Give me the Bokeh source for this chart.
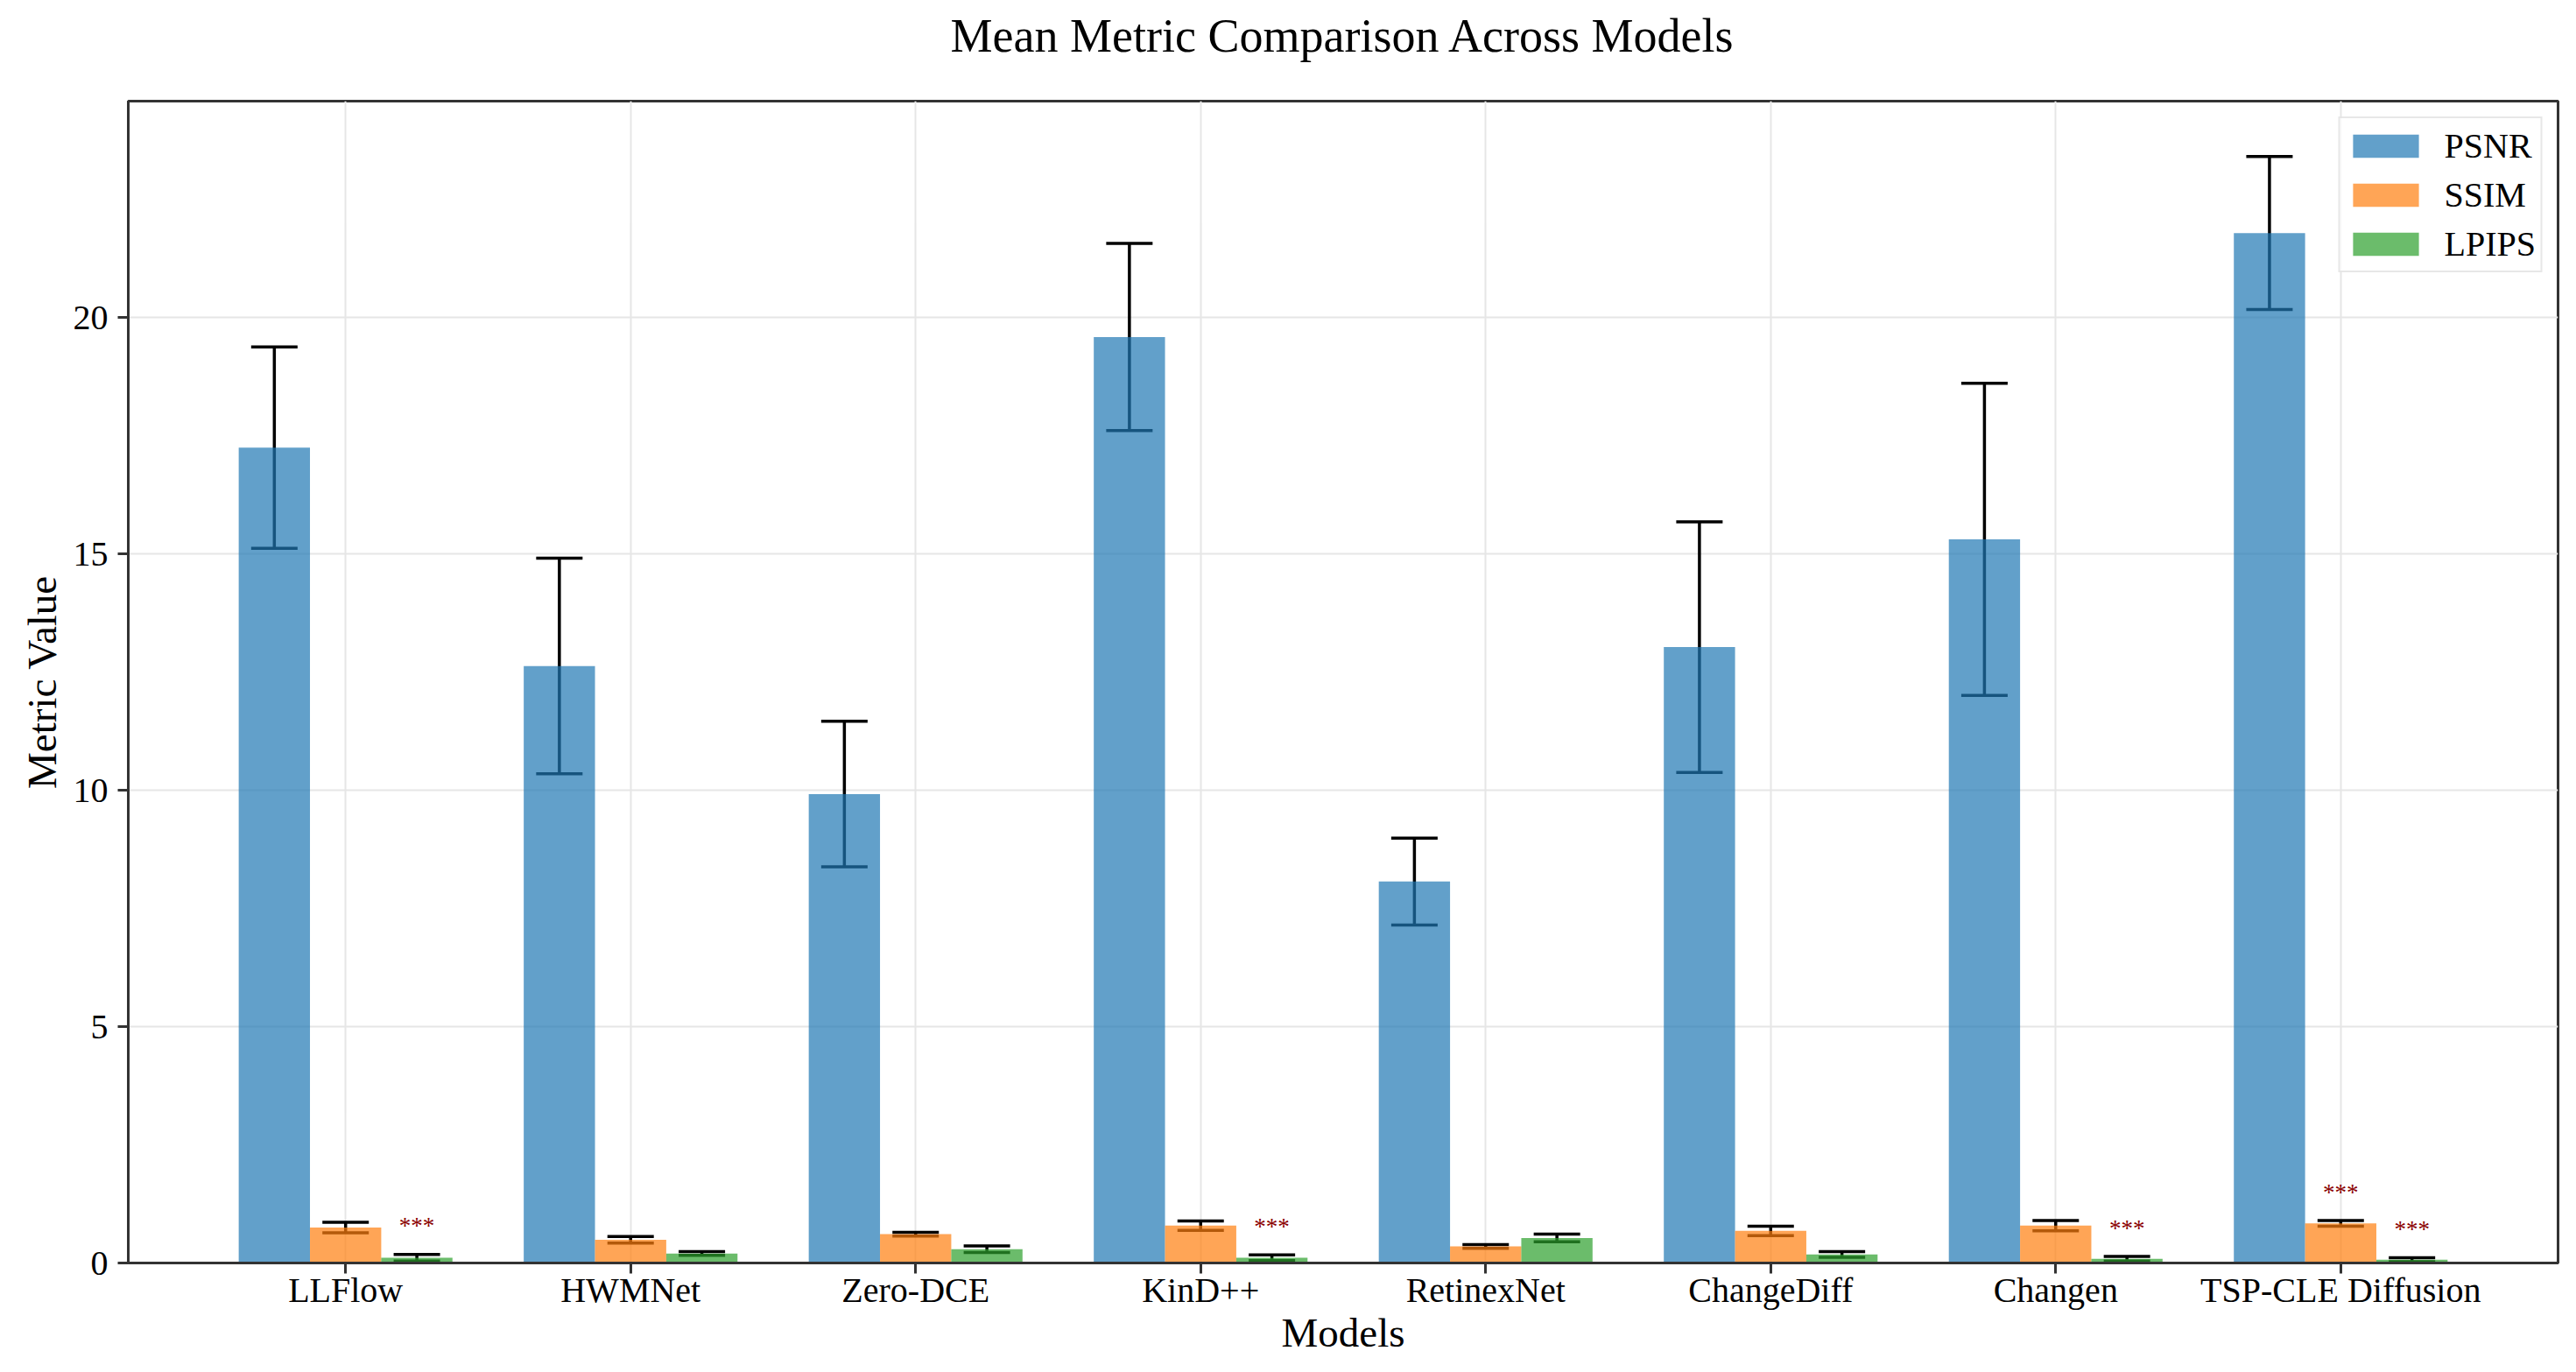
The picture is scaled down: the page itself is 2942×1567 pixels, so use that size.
from bokeh.plotting import figure
from bokeh.models import ColumnDataSource, Whisker, TeeHead, Range1d, FixedTicker, Title
from bokeh.core.properties import value
from bokeh.embed import file_html
from bokeh.resources import INLINE

# ---------------- data ----------------
models = ["LLFlow", "HWMNet", "Zero-DCE", "KinD++", "RetinexNet",
          "ChangeDiff", "Changen", "TSP-CLE Diffusion"]
psnr_mean = [17.25, 12.63, 9.92, 19.59, 8.07, 13.03, 15.31, 21.79]
psnr_std = [2.13, 2.28, 1.54, 1.98, 0.92, 2.65, 3.30, 1.62]
ssim_mean = [0.75, 0.49, 0.61, 0.79, 0.35, 0.68, 0.79, 0.84]
ssim_std = [0.11, 0.07, 0.04, 0.10, 0.04, 0.10, 0.11, 0.06]
lpips_mean = [0.11, 0.20, 0.29, 0.11, 0.53, 0.18, 0.09, 0.07]
lpips_std = [0.07, 0.04, 0.07, 0.06, 0.08, 0.06, 0.05, 0.04]
ssim_sig = ["", "", "", "", "", "", "", "***"]
lpips_sig = ["***", "", "", "***", "", "", "***", "***"]
y_ticks = [0, 5, 10, 15, 20]
title_text = "Mean Metric Comparison Across Models"

FONT = "Liberation Serif"
W, H = 2926, 1551
bar_w = 0.25

n = len(models)
idx = list(range(n))
top = max(m + s for m, s in zip(psnr_mean, psnr_std)) * 1.05

p = figure(width=W, height=H, output_backend="svg", toolbar_location=None,
           x_range=Range1d(-0.7625, n - 1 + 0.7625), y_range=Range1d(0, top))
p.min_border_left = 146
p.min_border_right = 5
p.min_border_top = 115
p.min_border_bottom = 109

# spacer between frame and title, then the title itself
p.add_layout(Title(text=" ", text_font_size="1px", standoff=42), "above")
p.add_layout(Title(text=title_text, text_font=FONT, text_font_size="54px",
                   text_font_style="normal", text_color="black",
                   align="center", standoff=0), "above")

series = [
    ("PSNR", psnr_mean, psnr_std, "#1f77b4", -bar_w, None),
    ("SSIM", ssim_mean, ssim_std, "#ff7f0e", 0.0, ssim_sig),
    ("LPIPS", lpips_mean, lpips_std, "#2ca02c", bar_w, lpips_sig),
]

for name, means, stds, color, off, sig in series:
    xs = [i + off for i in idx]
    src = ColumnDataSource(dict(
        x=xs, top=means,
        upper=[m + s for m, s in zip(means, stds)],
        lower=[m - s for m, s in zip(means, stds)],
    ))
    p.vbar(x="x", top="top", width=bar_w, source=src, fill_color=color,
           fill_alpha=0.7, line_color=None, legend_label=name)
    w = Whisker(base="x", upper="upper", lower="lower", source=src,
                line_color="black", line_width=3.5,
                upper_head=TeeHead(size=53, line_color="black", line_width=3.5),
                lower_head=TeeHead(size=53, line_color="black", line_width=3.5))
    p.add_layout(w)
    if sig is not None:
        sx, sy, st = [], [], []
        for i in idx:
            if sig[i]:
                sx.append(xs[i])
                sy.append(means[i] + stds[i] + 0.60)
                st.append(sig[i])
        ssrc = ColumnDataSource(dict(x=sx, y=sy, t=st))
        p.text(x="x", y="y", text="t", source=ssrc, text_align="center",
               text_baseline="middle", text_color="darkred",
               text_font=value(FONT), text_font_size="27px")

# axes
for ax in (p.xaxis[0], p.yaxis[0]):
    ax.major_label_text_font = FONT
    ax.major_label_text_font_size = "40px"
    ax.major_label_text_color = "black"
    ax.axis_label_text_font = FONT
    ax.axis_label_text_font_size = "47px"
    ax.axis_label_text_font_style = "normal"
    ax.axis_label_text_color = "black"
    ax.axis_line_color = "#333333"
    ax.axis_line_width = 3
    ax.major_tick_line_color = "#333333"
    ax.major_tick_line_width = 3
    ax.major_tick_out = 12
    ax.major_tick_in = 0
    ax.minor_tick_out = 0
    ax.minor_tick_in = 0

p.xaxis.ticker = FixedTicker(ticks=idx)
p.xaxis.major_label_overrides = {i: m for i, m in zip(idx, models)}
p.xaxis.axis_label = "Models"
p.xaxis.major_label_standoff = -4
p.xaxis.axis_label_standoff = -3

p.yaxis.ticker = FixedTicker(ticks=y_ticks)
p.yaxis.axis_label = "Metric Value"
p.yaxis.major_label_standoff = 11
p.yaxis.axis_label_standoff = 7

p.outline_line_color = "#333333"
p.outline_line_width = 3
p.outline_line_alpha = 1.0

for g in (p.xgrid[0], p.ygrid[0]):
    g.grid_line_color = "#e6e6e6"
    g.grid_line_width = 2

p.legend.location = "top_right"
p.legend.margin = 18
p.legend.padding = 5
p.legend.spacing = 4
p.legend.glyph_width = 94
p.legend.glyph_height = 33
p.legend.label_standoff = 20
p.legend.label_text_font = FONT
p.legend.label_text_font_size = "40px"
p.legend.label_text_color = "black"
p.legend.label_height = 52
p.legend.border_line_color = "#d0d0d0"
p.legend.border_line_width = 2
p.legend.background_fill_alpha = 0.8

open("out.html", "w").write(file_html(p, INLINE))
